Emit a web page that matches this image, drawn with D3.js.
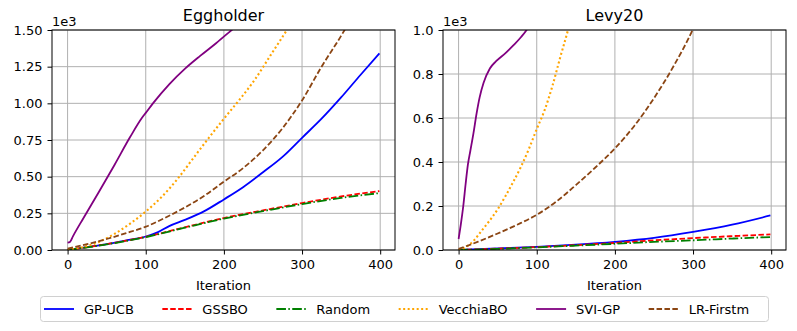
<!DOCTYPE html>
<html>
<head>
<meta charset="utf-8">
<script src="https://cdn.jsdelivr.net/npm/d3@7"></script>
<style>
  body { margin: 0; background: #fff; }
  text { font-family: "DejaVu Sans", sans-serif; fill: #000; }
</style>
</head>
<body>
<svg width="797" height="331"></svg>
<script>
// series names / styles
const names = ["GP-UCB", "GSSBO", "Random", "VecchiaBO", "SVI-GP", "LR-Firstm"];
const colors = ["#0000ff", "#ff0000", "#008000", "#ffa500", "#800080", "#8b4513"];
const dashes = [null, "5.5,2.4", "9.6,2.4,1.5,2.4", "2,2.5", null, "5.5,2.4"];

// Eggholder: [iteration, value]
const eggGpucb = [[0,0],[25,20],[50,40],[75,65],[100,92],[115,120],[130,163],[150,205],[175,265],[200,345],[225,430],[250,530],[275,635],[300,765],[325,895],[350,1040],[375,1195],[399,1340]];
const eggGssbo = [[0,0],[50,40],[100,90],[150,155],[200,218],[250,270],[300,320],[350,365],[399,402]];
const eggRandom = [[0,0],[50,38],[100,88],[150,152],[200,214],[250,265],[300,313],[350,355],[399,388]];
const eggVecchia = [[0,0],[20,20],[40,55],[60,110],[80,180],[100,262],[120,360],[140,480],[160,620],[180,760],[200,895],[220,1025],[240,1165],[260,1330],[280,1495],[290,1580]];
const eggSvigp = [[0,50],[3,55],[7,95],[20,215],[40,395],[60,580],[80,770],[95,900],[100,935],[110,1005],[130,1130],[150,1235],[170,1325],[190,1410],[210,1500],[220,1545]];
const eggLrfirst = [[0,10],[25,40],[50,75],[75,115],[100,159],[125,220],[150,290],[175,370],[200,466],[225,560],[250,680],[275,830],[300,1020],[325,1250],[350,1460],[360,1550]];

// Levy20: [iteration, value]
const levyGpucb = [[0,0],[50,7],[100,14],[150,24],[200,37],[250,55],[300,82],[350,115],[399,157]];
const levyGssbo = [[0,0],[50,6],[100,13],[150,22],[200,32],[250,44],[300,54],[350,63],[399,71]];
const levyRandom = [[0,0],[50,5],[100,12],[150,20],[200,28],[250,37],[300,44],[350,52],[399,59]];
const levyVecchia = [[0,0],[10,15],[20,45],[30,90],[40,135],[50,185],[60,245],[70,310],[80,380],[90,460],[100,550],[110,635],[120,745],[130,875],[140,1000],[145,1070]];
const levySvigp = [[0,50],[3,120],[6,200],[9,300],[12,390],[15,450],[19,530],[23,620],[27,695],[32,760],[40,825],[48,858],[60,895],[70,930],[80,968],[87,1000],[92,1030]];
const levyLrfirst = [[0,5],[25,38],[50,75],[75,115],[100,160],[125,220],[150,295],[175,375],[200,462],[225,565],[250,690],[275,835],[300,1005],[305,1045]];

const xTicks = [0, 100, 200, 300, 400];
const eggYTicks = [0, 250, 500, 750, 1000, 1250, 1500];
const levyYTicks = [0, 200, 400, 600, 800, 1000];

const svg = d3.select("svg");
svg.append("rect").attr("width", 797).attr("height", 331).attr("fill", "#fff");

function panel(id, left, title, series, yMax, yTicks, decimals) {
  const w = 343, top = 30, h = 220;
  const x = d3.scaleLinear().domain([-19.95, 418.95]).range([left, left + w]);
  const y = d3.scaleLinear().domain([0, yMax]).range([top + h, top]);
  const g = svg.append("g");

  // grid
  g.selectAll(".gx").data(xTicks).enter().append("line")
    .attr("x1", d => x(d)).attr("x2", d => x(d))
    .attr("y1", top).attr("y2", top + h)
    .attr("stroke", "#b0b0b0").attr("stroke-width", 1);
  g.selectAll(".gy").data(yTicks).enter().append("line")
    .attr("x1", left).attr("x2", left + w)
    .attr("y1", d => y(d)).attr("y2", d => y(d))
    .attr("stroke", "#b0b0b0").attr("stroke-width", 1);

  svg.append("clipPath").attr("id", id)
    .append("rect").attr("x", left).attr("y", top).attr("width", w).attr("height", h);

  const line = d3.line().x(d => x(d[0])).y(d => y(d[1])).curve(d3.curveMonotoneX);
  const lines = g.append("g").attr("clip-path", "url(#" + id + ")");
  series.forEach(function (s, i) {
    lines.append("path")
      .datum(s)
      .attr("d", line)
      .attr("fill", "none")
      .attr("stroke", colors[i])
      .attr("stroke-width", i == 3 ? 2.1 : 1.8)
      .attr("stroke-dasharray", dashes[i]);
  });

  // axes
  const xa = g.append("g").attr("transform", "translate(0," + (top + h) + ")")
    .call(d3.axisBottom(x).tickValues(xTicks).tickSize(4.5).tickPadding(5).tickFormat(d3.format("d")));
  const ya = g.append("g").attr("transform", "translate(" + left + ",0)")
    .call(d3.axisLeft(y).tickValues(yTicks).tickSize(4.5).tickPadding(5)
      .tickFormat(d => (d / 1000).toFixed(decimals)));
  [xa, ya].forEach(a => {
    a.select(".domain").remove();
    a.selectAll("text").style("font-size", "13px").style("font-family", "DejaVu Sans");
    a.selectAll("line").attr("stroke", "#000").attr("stroke-width", 1);
  });

  g.append("rect").attr("x", left).attr("y", top).attr("width", w).attr("height", h)
    .attr("fill", "none").attr("stroke", "#000").attr("stroke-width", 1);

  g.append("text").attr("x", left + w / 2).attr("y", 21)
    .attr("text-anchor", "middle").style("font-size", "16px").text(title);
  g.append("text").attr("x", left).attr("y", 26)
    .style("font-size", "13px").text("1e3");
  g.append("text").attr("x", left + w / 2).attr("y", 290)
    .attr("text-anchor", "middle").style("font-size", "13px").text("Iteration");
}

panel("clipEgg", 52, "Eggholder",
  [eggGpucb, eggGssbo, eggRandom, eggVecchia, eggSvigp, eggLrfirst], 1500, eggYTicks, 2);
panel("clipLevy", 443, "Levy20",
  [levyGpucb, levyGssbo, levyRandom, levyVecchia, levySvigp, levyLrfirst], 1000, levyYTicks, 1);

// legend
const leg = svg.append("g");
leg.append("rect").attr("x", 40.5).attr("y", 296.5).attr("width", 728).attr("height", 25)
  .attr("rx", 3).attr("fill", "#fff").attr("stroke", "#d0d0d0").attr("stroke-width", 1);
let lx = 44;
names.forEach(function (n, i) {
  leg.append("line").attr("x1", lx).attr("x2", lx + 30).attr("y1", 309).attr("y2", 309)
    .attr("stroke", colors[i]).attr("stroke-width", i == 3 ? 2.1 : 1.8).attr("stroke-dasharray", dashes[i]);
  const t = leg.append("text").attr("x", lx + 40).attr("y", 313.5)
    .style("font-size", "13px").text(n);
  lx = lx + 40 + t.node().getComputedTextLength() + 28.5;
});
</script>
</body>
</html>
